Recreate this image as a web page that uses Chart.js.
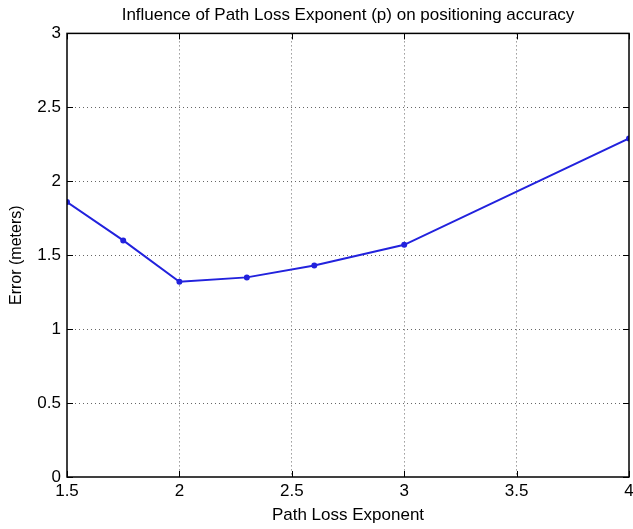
<!DOCTYPE html>
<html>
<head>
<meta charset="utf-8">
<title>Path loss exponent</title>
<script src="https://cdn.jsdelivr.net/npm/chart.js@4/dist/chart.umd.min.js"></script>
<style>
    html, body { margin: 0; padding: 0; background: #fff; }
    #wrap { width: 633px; height: 529px; }
</style>
</head>
<body>
<div id="wrap"><canvas id="plConfChart"></canvas></div>
<script>
// values
var exponents = [1.5, 1.75, 2, 2.3, 2.6, 3, 4];
var errors = [1.86, 1.60, 1.32, 1.35, 1.43, 1.57, 2.29];
var xTicks = [1.5, 2, 2.5, 3, 3.5, 4];
var yTicks = [0, 0.5, 1, 1.5, 2, 2.5, 3];

var FONT = '"Liberation Sans", Arial, sans-serif';

// box round the axes + inward tick marks on all four sides
var boxPlugin = {
    id: 'boxPlugin',
    afterDraw: function (chart) {
        var ctx = chart.ctx;
        var a = chart.chartArea;
        var xs = chart.scales.x, ys = chart.scales.y;
        ctx.save();
        ctx.strokeStyle = '#000';
        ctx.lineWidth = 1;
        ctx.beginPath();
        xTicks.forEach(function (v) {
            var px = Math.round(xs.getPixelForValue(v)) + 0.5;
            ctx.moveTo(px, a.bottom); ctx.lineTo(px, a.bottom - 6);
            ctx.moveTo(px, a.top); ctx.lineTo(px, a.top + 6);
        });
        yTicks.forEach(function (v) {
            var py = Math.round(ys.getPixelForValue(v)) + 0.5;
            ctx.moveTo(a.left, py); ctx.lineTo(a.left + 6, py);
            ctx.moveTo(a.right, py); ctx.lineTo(a.right - 6, py);
        });
        ctx.stroke();
        ctx.lineWidth = 1.5;
        ctx.strokeRect(a.left, a.top, a.right - a.left, a.bottom - a.top);
        ctx.restore();
    }
};

var ctx = document.getElementById('plConfChart').getContext('2d');
new Chart(ctx, {
    type: 'line',
    data: {
        datasets: [{
            label: 'Error',
            data: exponents.map(function (x, i) { return { x: x, y: errors[i] }; }),
            borderColor: '#2222dd',
            backgroundColor: '#2222dd',
            borderWidth: 2,
            pointRadius: 2,
            pointHoverRadius: 2,
            tension: 0,
            fill: false
        }]
    },
    options: {
        responsive: true,
        maintainAspectRatio: false,
        animation: false,
        layout: { padding: 0 },
        plugins: {
            legend: { display: false },
            tooltip: { enabled: false },
            title: {
                display: true,
                text: 'Influence of Path Loss Exponent (p) on positioning accuracy',
                fullSize: false,
                color: '#000',
                font: { family: FONT, size: 17, weight: 'normal' },
                padding: { top: 5, bottom: 8 }
            }
        },
        scales: {
            x: {
                type: 'linear',
                min: 1.5,
                max: 4,
                afterBuildTicks: function (s) { s.ticks = xTicks.map(function (v) { return { value: v }; }); },
                afterFit: function (s) { s.height = 52; s.paddingLeft = 0; s.paddingRight = 0; },
                ticks: {
                    color: '#000',
                    font: { family: FONT, size: 17 },
                    padding: 4,
                    maxRotation: 0,
                    callback: function (v) { return String(v); }
                },
                grid: {
                    color: function (c) { return (c.tick && (c.tick.value === 1.5 || c.tick.value === 4)) ? 'rgba(0,0,0,0)' : '#666'; },
                    lineWidth: 1,
                    drawTicks: false
                },
                border: { display: false, dash: [1, 3] },
                title: {
                    display: true,
                    text: 'Path Loss Exponent',
                    color: '#000',
                    font: { family: FONT, size: 17 },
                    padding: { top: 0, bottom: 3 }
                }
            },
            y: {
                min: 0,
                max: 3,
                afterBuildTicks: function (s) { s.ticks = yTicks.map(function (v) { return { value: v }; }); },
                afterFit: function (s) { s.width = 67; s.paddingTop = 0; s.paddingBottom = 0; },
                ticks: {
                    color: '#000',
                    font: { family: FONT, size: 17 },
                    padding: 6,
                    callback: function (v) { return String(v); }
                },
                grid: {
                    color: function (c) { return (c.tick && (c.tick.value === 0 || c.tick.value === 3)) ? 'rgba(0,0,0,0)' : '#666'; },
                    lineWidth: 1,
                    drawTicks: false
                },
                border: { display: false, dash: [1, 3] },
                title: {
                    display: true,
                    text: 'Error (meters)',
                    color: '#000',
                    font: { family: FONT, size: 16 },
                    padding: { top: 7, bottom: 0 }
                }
            }
        }
    },
    plugins: [boxPlugin]
});
</script>
</body>
</html>
